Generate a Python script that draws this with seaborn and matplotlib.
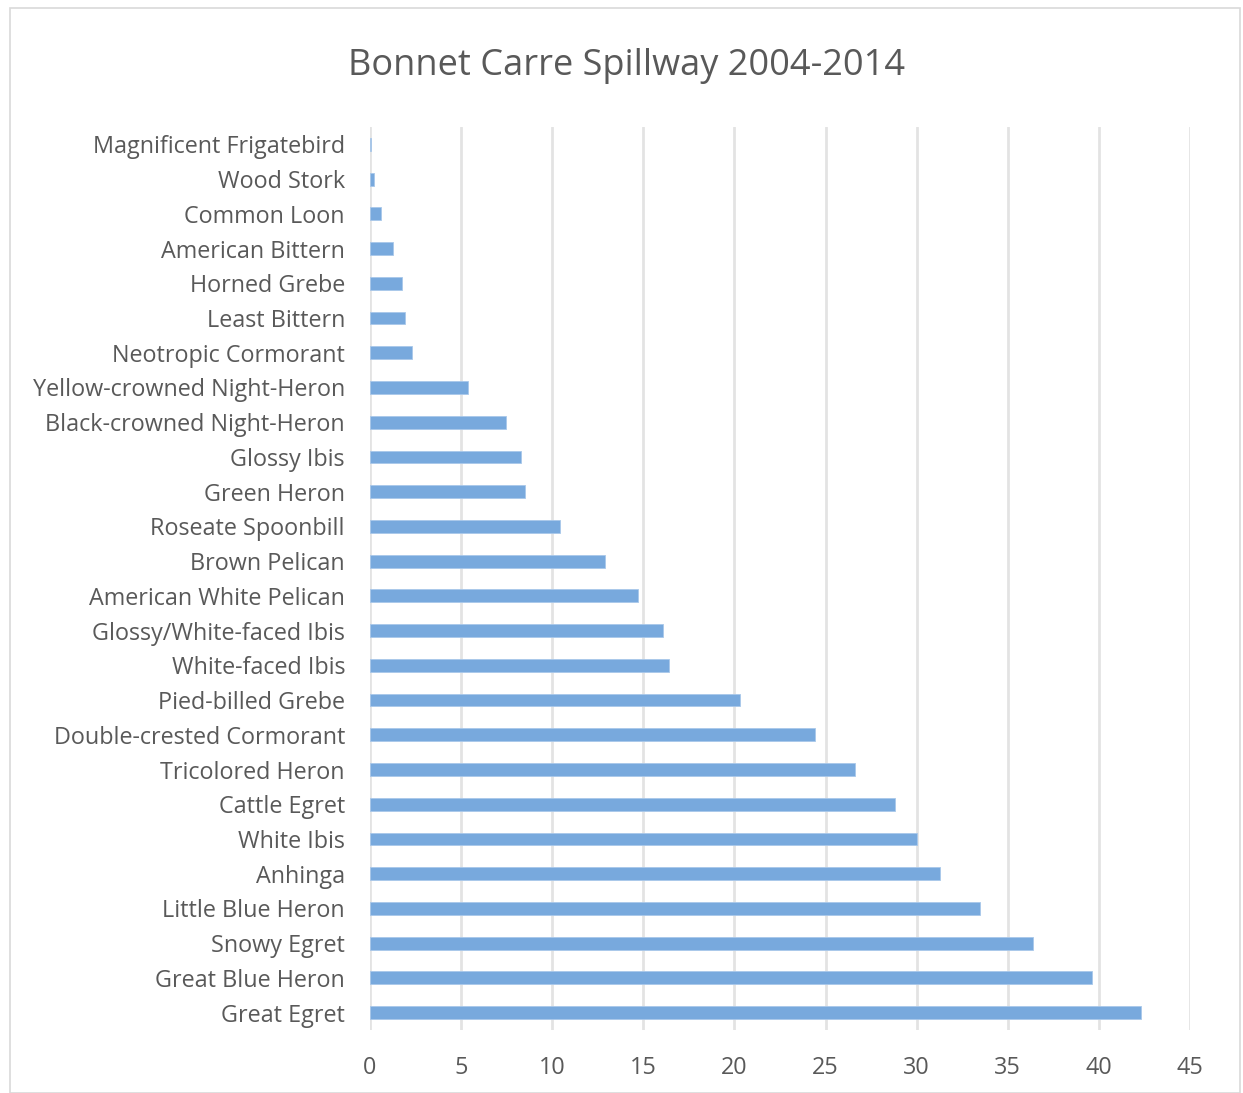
import pandas as pd
import matplotlib.pyplot as plt
import seaborn as sns
from matplotlib.patches import Rectangle

# Species, listed top to bottom as in the chart
species = [
    "Magnificent Frigatebird", "Wood Stork", "Common Loon", "American Bittern",
    "Horned Grebe", "Least Bittern", "Neotropic Cormorant",
    "Yellow-crowned Night-Heron", "Black-crowned Night-Heron", "Glossy Ibis",
    "Green Heron", "Roseate Spoonbill", "Brown Pelican", "American White Pelican",
    "Glossy/White-faced Ibis", "White-faced Ibis", "Pied-billed Grebe",
    "Double-crested Cormorant", "Tricolored Heron", "Cattle Egret", "White Ibis",
    "Anhinga", "Little Blue Heron", "Snowy Egret", "Great Blue Heron", "Great Egret",
]
counts = [
    0.08, 0.2, 0.6, 1.25, 1.77, 1.9, 2.29, 5.4, 7.47, 8.26, 8.5, 10.45, 12.9,
    14.7, 16.1, 16.4, 20.3, 24.4, 26.6, 28.8, 30.0, 31.3, 33.5, 36.4, 39.6, 42.3,
]
x_ticks = [0, 5, 10, 15, 20, 25, 30, 35, 40, 45]

df = pd.DataFrame({"Species": species, "Count": counts})

sns.set_style("white")
plt.rcParams["font.family"] = ["Open Sans", "DejaVu Sans"]
text_color = "#595959"

fig = plt.figure(figsize=(12.43, 10.93), dpi=100)
ax = fig.add_axes([370 / 1243, 1 - 1030 / 1093, 820 / 1243, 903 / 1093])

sns.barplot(data=df, x="Count", y="Species", orient="h", color="#78A9DD",
            width=0.37, saturation=1, edgecolor="#A9C8EA", linewidth=0.6,
            ax=ax, zorder=3)

ax.set_xlim(0, 45)
ax.set_xticks(x_ticks)
ax.grid(axis="x", color="#E3E3E3", linewidth=2, zorder=0)
ax.set_axisbelow(True)
for s in ax.spines.values():
    s.set_visible(False)
ax.set_xlabel("")
ax.set_ylabel("")
ax.tick_params(axis="both", length=0, labelsize=16.8, colors=text_color)
ax.tick_params(axis="y", pad=18)
ax.tick_params(axis="x", pad=19)

fig.text(627 / 1243, 1 - 66 / 1093, "Bonnet Carre Spillway 2004-2014",
         ha="center", va="center", fontsize=26, color=text_color)

# light chart-area border
fig.patches.append(Rectangle((10 / 1243, 0), 1230 / 1243, 1 - 8 / 1093,
                             transform=fig.transFigure, fill=False,
                             edgecolor="#D9D9D9", linewidth=1.2))

fig.savefig("out.png", dpi=100)
